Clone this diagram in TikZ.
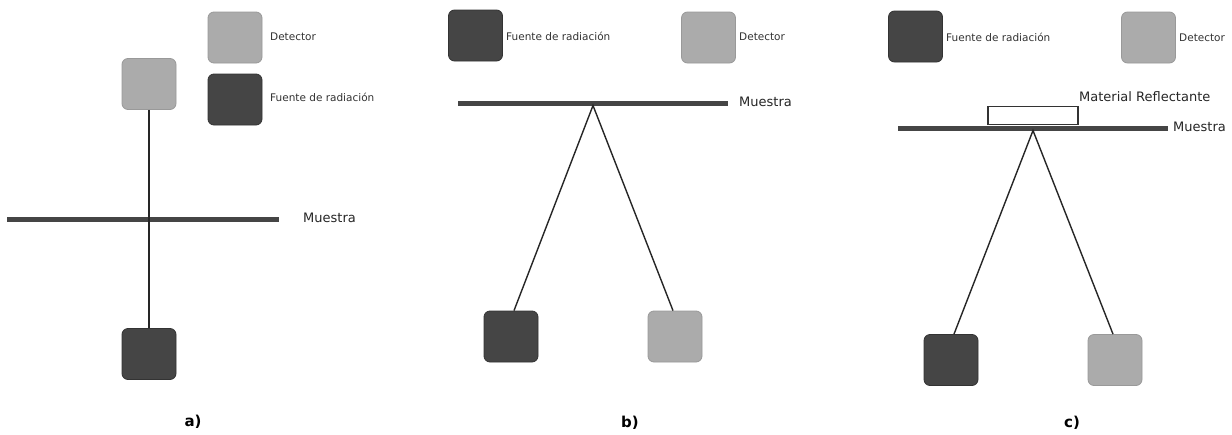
\documentclass[tikz,border=0pt]{standalone}
\usepackage{fontspec}
\setmainfont{DejaVu Sans}
\usetikzlibrary{calc}
\begin{document}
\begin{tikzpicture}[x=1pt,y=-1pt,
  box/.style={rounded corners=6pt,minimum width=54pt,minimum height=51pt,inner sep=0pt,line width=0.8pt},
  darkbox/.style={box,fill=black!73,draw=black!80},
  lightbox/.style={box,fill=black!33,draw=black!40},
  legtext/.style={anchor=west,font=\fontsize{10.5}{12}\selectfont,text=black!80,inner sep=0pt},
  samptext/.style={anchor=west,font=\fontsize{13}{15}\selectfont,text=black!85,inner sep=0pt},
  panellabel/.style={font=\bfseries\fontsize{15}{18}\selectfont,inner sep=0pt},
  bar/.style={line width=5pt,draw=black!73},
  ray/.style={line width=1.4pt,draw=black!85}]
\useasboundingbox[fill=white] (0,0) rectangle (1232,434);

% ---------- panel a ----------
\node[lightbox] (legDetA) at (235,37.5) {};
\node[legtext] (legDetAt) at (270,37) {Detector};
\node[darkbox] (legSrcA) at (235,99.5) {};
\node[legtext] (legSrcAt) at (270,97) {Fuente de radiación};
\node[lightbox] (detA) at (149,84) {};
\node[darkbox] (srcA) at (149,354) {};
\coordinate (barAl) at (7,219);
\coordinate (barAr) at (279,219);
\draw[bar] (barAl) -- (barAr);
\draw[ray] (detA.south) -- (srcA.north);
\node[samptext] (muA) at (303,218) {Muestra};
\node[panellabel] (labA) at (193,422) {a)};

% ---------- panel b ----------
\node[darkbox] (legSrcB) at (475.5,35.5) {};
\node[legtext] (legSrcBt) at (506,36) {Fuente de radiación};
\node[lightbox] (legDetB) at (708.5,37.5) {};
\node[legtext] (legDetBt) at (739,37) {Detector};
\coordinate (barBl) at (458,103);
\coordinate (barBr) at (728,103);
\draw[bar] (barBl) -- (barBr);
\node[samptext] (muB) at (739,102) {Muestra};
\coordinate (apexB) at (593,105.5);
\node[darkbox] (srcB) at (511,336.5) {};
\node[lightbox] (detB) at (675,336.5) {};
\draw[ray] ($(srcB.north)+(3,0)$) -- (apexB) -- ($(detB.north)+(-2,0)$);
\node[panellabel] (labB) at (630,423) {b)};

% ---------- panel c ----------
\node[darkbox] (legSrcC) at (915.5,36.5) {};
\node[legtext] (legSrcCt) at (946,37) {Fuente de radiación};
\node[lightbox] (legDetC) at (1148.5,37.5) {};
\node[legtext] (legDetCt) at (1179,38) {Detector};
\node[draw=black!80,fill=white,line width=1.2pt,minimum width=90pt,minimum height=18pt,inner sep=0pt] (matC) at (1033,115.5) {};
\node[samptext] (matCt) at (1079,97) {Material Reflectante};
\coordinate (barCl) at (898,128);
\coordinate (barCr) at (1168,128);
\draw[bar] (barCl) -- (barCr);
\node[samptext] (muC) at (1173,127) {Muestra};
\coordinate (apexC) at (1033,130.5);
\node[darkbox] (srcC) at (951,360) {};
\node[lightbox] (detC) at (1115,360) {};
\draw[ray] ($(srcC.north)+(3,0)$) -- (apexC) -- ($(detC.north)+(-2,0)$);
\node[panellabel] (labC) at (1072,423) {c)};
\end{tikzpicture}
\end{document}
